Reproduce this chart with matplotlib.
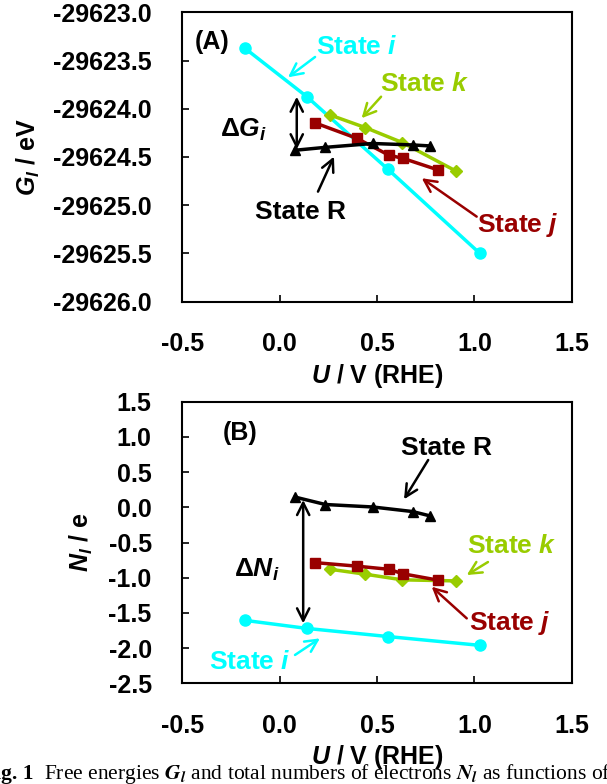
import numpy as np
import matplotlib
matplotlib.use("Agg")
import matplotlib.pyplot as plt
from matplotlib.ticker import FormatStrFormatter

plt.rcParams['font.family'] = ['Liberation Sans', 'DejaVu Sans']
plt.rcParams['font.weight'] = 'bold'
plt.rcParams['mathtext.fontset'] = 'custom'
plt.rcParams['mathtext.it'] = 'Liberation Sans:italic:bold'
plt.rcParams['mathtext.rm'] = 'Liberation Sans'
plt.rcParams['mathtext.bf'] = 'Liberation Sans:bold'

# state i (cyan)
u_i = [-0.18, 0.14, 0.555, 1.027]
g_i = [-29623.37, -29623.875, -29624.625, -29625.497]
n_i = [-1.605, -1.72, -1.835, -1.96]

# state k (green)
u_k = [0.26, 0.44, 0.63, 0.905]
g_k = [-29624.065, -29624.195, -29624.35, -29624.645]
n_k = [-0.88, -0.95, -1.03, -1.045]

# state j (dark red)
u_j = [0.18, 0.395, 0.56, 0.635, 0.815]
g_j = [-29624.145, -29624.305, -29624.48, -29624.515, -29624.635]
n_j = [-0.785, -0.835, -0.88, -0.945, -1.035]

# state R (black)
u_r = [0.08, 0.235, 0.478, 0.683, 0.77]
g_r = [-29624.43, -29624.40, -29624.36, -29624.375, -29624.385]
n_r = [0.145, 0.04, 0.005, -0.06, -0.12]

x_ticks = [-0.5, 0.0, 0.5, 1.0, 1.5]
g_ticks = [-29626.0, -29625.5, -29625.0, -29624.5, -29624.0, -29623.5, -29623.0]
n_ticks = [-2.5, -2.0, -1.5, -1.0, -0.5, 0.0, 0.5, 1.0, 1.5]

CYAN = '#00FFFF'
GREEN = '#99CC00'
RED = '#990000'
FS = 18

fig = plt.figure(figsize=(6.07, 7.84), dpi=100)
ax_a = fig.add_axes([0.3003, 0.6152, 0.6415, 0.3691])
ax_b = fig.add_axes([0.3003, 0.1284, 0.6415, 0.3592])


def style(ax, yticks):
    ax.set_xlim(-0.5, 1.5)
    ax.set_ylim(yticks[0], yticks[-1])
    ax.set_xticks(x_ticks)
    ax.set_yticks(yticks)
    ax.xaxis.set_major_formatter(FormatStrFormatter('%.1f'))
    ax.yaxis.set_major_formatter(FormatStrFormatter('%.1f'))
    ax.tick_params(direction='in', length=5, width=1.2, pad=22, labelsize=FS)
    for s in ax.spines.values():
        s.set_linewidth(1.5)
    ax.set_xlabel('$U$ / V (RHE)', fontsize=FS, fontweight='bold', labelpad=4)


def arrow(ax, txt, xy, xytext, textpos, color):
    ax.annotate('', xy=xy, xytext=xytext,
                arrowprops=dict(arrowstyle='->', color=color, lw=1.8,
                                mutation_scale=22, shrinkA=0, shrinkB=0))
    ax.text(textpos[0], textpos[1], txt, color=color, fontsize=19,
            fontweight='bold', ha='center', va='center')


def series(ax, ys):
    ax.plot(u_i, ys[0], '-o', color=CYAN, lw=2.5, ms=8)
    ax.plot(u_k, ys[1], '-D', color=GREEN, lw=2.5, ms=6.5)
    ax.plot(u_j, ys[2], '-s', color=RED, lw=2.5, ms=7.5)
    ax.plot(u_r, ys[3], '-^', color='black', lw=2.5, ms=7.5)


# panel A
ax = ax_a
series(ax, [g_i, g_k, g_j, g_r])
style(ax, g_ticks)
ax.set_ylabel('$G_l$ / eV', fontsize=FS, fontweight='bold', labelpad=8)
ax.text(-0.347, -29623.31, '(A)', fontsize=FS, ha='center', va='center')
arrow(ax, 'State $i$', (0.043, -29623.674), (0.182, -29623.463), (0.397, -29623.36), CYAN)
arrow(ax, 'State $k$', (0.421, -29624.098), (0.521, -29623.875), (0.747, -29623.743), GREEN)
arrow(ax, 'State R', (0.279, -29624.496), (0.197, -29624.859), (0.105, -29625.07), 'black')
arrow(ax, 'State $j$', (0.73, -29624.72), (1.012, -29625.118), (1.225, -29625.205), RED)
ax.annotate('', xy=(0.088, -29623.875), xytext=(0.088, -29624.42),
            arrowprops=dict(arrowstyle='<->', color='black', lw=1.8,
                            mutation_scale=22, shrinkA=0, shrinkB=0))
ax.text(-0.188, -29624.22, r'$\Delta G_i$', fontsize=19, ha='center', va='center')

# panel B
ax = ax_b
series(ax, [n_i, n_k, n_j, n_r])
style(ax, n_ticks)
ax.set_ylabel('$N_l$ / e', fontsize=FS, fontweight='bold', labelpad=10)
ax.text(-0.203, 1.056, '(B)', fontsize=FS, ha='center', va='center')
arrow(ax, 'State R', (0.639, 0.114), (0.763, 0.672), (0.859, 0.842), 'black')
arrow(ax, 'State $k$', (0.961, -0.962), (1.07, -0.777), (1.193, -0.55), GREEN)
arrow(ax, 'State $j$', (0.781, -1.128), (0.961, -1.577), (1.183, -1.643), RED)
arrow(ax, 'State $i$', (0.207, -1.861), (0.079, -2.097), (-0.152, -2.19), CYAN)
ax.annotate('', xy=(0.121, 0.104), xytext=(0.121, -1.648),
            arrowprops=dict(arrowstyle='<->', color='black', lw=1.8,
                            mutation_scale=22, shrinkA=0, shrinkB=0))
ax.text(-0.116, -0.89, r'$\Delta N_i$', fontsize=19, ha='center', va='center')

# caption, cut off at the page edge like the scanned figure
fig.text(33 / 607, 0.006, 'Fig. 1', fontsize=15.5, family='Liberation Serif',
         fontweight='bold', ha='right', va='baseline', zorder=0)
fig.text(44 / 607, 0.006,
         'Free energies $G_l$ and total numbers of electrons $N_l$ as functions of',
         fontsize=15.5, family='Liberation Serif', fontweight='normal',
         math_fontfamily='stix', ha='left', va='baseline', zorder=0)

fig.savefig('out.png', dpi=100)
